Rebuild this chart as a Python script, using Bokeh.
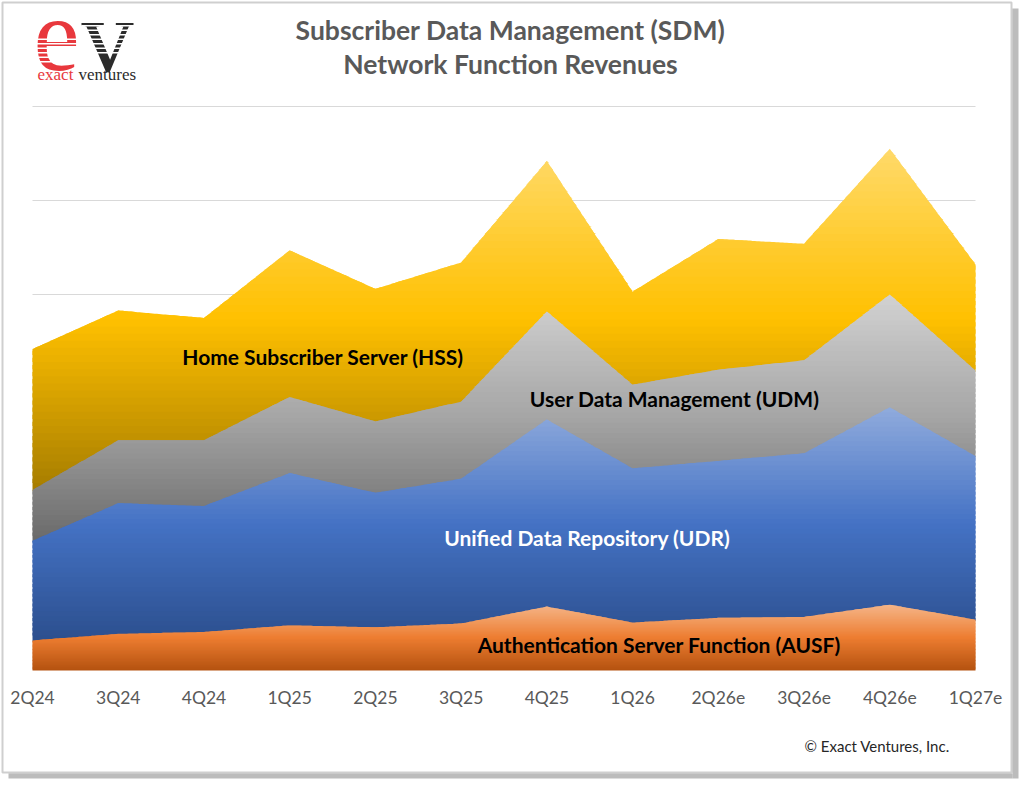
import numpy as np
from bokeh.plotting import figure
from bokeh.models import Range1d, Label, BoxAnnotation
from bokeh.core.properties import value
from bokeh.embed import file_html
from bokeh.resources import INLINE

# Quarterly revenue by SDM network function (stacked, bottom to top)
quarters = ["2Q24", "3Q24", "4Q24", "1Q25", "2Q25", "3Q25",
            "4Q25", "1Q26", "2Q26e", "3Q26e", "4Q26e", "1Q27e"]
ausf = [32, 39, 41, 48, 46, 50, 68, 51, 56, 57, 70, 54]
udr = [106, 139, 134, 162, 143, 154, 199, 164, 167, 174, 210, 174]
udm = [54, 67, 70, 81, 76, 82, 115, 89, 97, 99, 120, 91]
hss = [150, 138, 130, 156, 141, 148, 160, 99, 139, 124, 155, 113]
grid_values = [100, 200, 300, 400, 500, 600]

series_names = ["Authentication Server Function (AUSF)", "Unified Data Repository (UDR)",
                "User Data Management (UDM)", "Home Subscriber Server (HSS)"]
# light / base / dark stops of each vertical gradient
gradients = [
    ["#F5B588", "#ED7D31", "#B4520F"],
    ["#90ABDD", "#4472C4", "#2C4F8E"],
    ["#D2D2D2", "#A5A5A5", "#6A6A6A"],
    ["#FFDA6A", "#FFC000", "#A67D00"],
]

W, H = 1024, 786
# plot area in page pixels: x 32..975, y 106..670
LEFT, RIGHT, TOP, BOTTOM = 32, 975, 106, 670
n = len(quarters)
PX = (RIGHT - LEFT) / (n - 1)          # pixels per quarter
PY = (BOTTOM - TOP) / max(grid_values)  # pixels per value unit


def dx(px):
    return (px - LEFT) / PX


def dy(py):
    return (BOTTOM - py) / PY


p = figure(width=W, height=H, output_backend="svg", toolbar_location=None,
           x_range=Range1d(dx(0), dx(W)), y_range=Range1d(dy(H), dy(0)),
           x_axis_type=None, y_axis_type=None, min_border=0)
p.outline_line_color = None
p.background_fill_color = "white"
p.border_fill_color = "white"
p.grid.visible = False

x = np.arange(n, dtype=float)

# horizontal gridlines across the plot area
p.segment(x0=[0] * len(grid_values), x1=[n - 1] * len(grid_values),
          y0=grid_values, y1=grid_values, line_color="#D9D9D9", line_width=1)


def mix(a, b, t):
    ca = np.array([int(a[i:i + 2], 16) for i in (1, 3, 5)], float)
    cb = np.array([int(b[i:i + 2], 16) for i in (1, 3, 5)], float)
    c = ca + (cb - ca) * t
    return "#%02x%02x%02x" % tuple(int(round(v)) for v in c)


def grad(stops, t):
    # t = 0 at the top of the series, 1 at its bottom
    if t < 0.5:
        return mix(stops[0], stops[1], t / 0.5)
    return mix(stops[1], stops[2], (t - 0.5) / 0.5)


vals = [np.array(v, float) for v in (ausf, udr, udm, hss)]
tops = np.cumsum(vals, axis=0)
bottoms = np.vstack([np.zeros(n), tops[:-1]])

xs = np.linspace(0, n - 1, (n - 1) * 40 + 1)
N = 48
# top series first, each lower one drawn over the seam of the one above
for k in range(3, -1, -1):
    L = np.interp(xs, x, bottoms[k])
    U = np.interp(xs, x, tops[k])
    ymax, ymin = U.max(), L.min()
    Lx = L - (1.5 if k > 0 else 0.0)
    step = (ymax - ymin) / N
    for i in range(N):
        y0 = ymin + step * i
        y1 = ymin + step * (i + 1)
        lo = np.maximum(Lx, y0) if i > 0 else Lx
        hi = np.minimum(U, y1 + step * 0.6)
        hi = np.maximum(hi, lo)
        t = 1 - (i + 0.5) / N
        p.varea(x=xs, y1=lo, y2=hi, fill_color=grad(gradients[k], t))

# category labels under the plot area
p.text(x=x, y=[dy(697)] * n, text=quarters, text_align="center", text_baseline="middle",
       text_font=value("Lato"), text_font_size="17.5px", text_color="#595959")

# series labels
label_pos = [(7.31, 27.7, "black"), (6.47, 141.5, "white"), (7.49, 289, "black"), (3.39, 334, "black")]
for (lx, ly, col), name in zip(label_pos, series_names):
    p.add_layout(Label(x=lx, y=ly, text=name, text_align="center", text_baseline="middle",
                       text_font="Lato", text_font_style="bold", text_font_size="21px",
                       text_color=col))


def page_label(px, py, text, **kw):
    p.add_layout(Label(x=dx(px), y=dy(py), text=text, text_baseline="middle", **kw))


def page_box(l, r, t, b, **kw):
    p.add_layout(BoxAnnotation(left=dx(l), right=dx(r), top=dy(t), bottom=dy(b), **kw))


# title
page_label(510, 29, "Subscriber Data Management (SDM)", text_align="center",
           text_font="Lato", text_font_style="bold",
           text_font_size="26.5px", text_color="#595959")
page_label(510, 63, "Network Function Revenues", text_align="center",
           text_font="Lato", text_font_style="bold",
           text_font_size="26.5px", text_color="#595959")

# copyright
page_label(804, 745, "\u00a9 Exact Ventures, Inc.", text_align="left",
           text_font="Lato", text_font_size="15px", text_color="#262626")

# logo
page_label(33, 35, "e", text_align="left",
           text_font="Liberation Serif", text_font_size="104px", text_color="#E8383D")
page_label(81, 35, "v", text_align="left",
           text_font="Liberation Serif", text_font_size="104px", text_color="#2B2B2B")
for sy in np.arange(38, 62, 4.5):
    page_box(34, 81, sy, sy + 1.4, fill_color="white", fill_alpha=1, line_color=None)
for sy in np.arange(20, 52, 4.5):
    page_box(81, 138, sy, sy + 1.4, fill_color="white", fill_alpha=1, line_color=None)
page_label(37, 74, "exact", text_align="left",
           text_font="Liberation Serif", text_font_size="17px", text_color="#E8383D")
page_label(78, 74, "ventures", text_align="left",
           text_font="Liberation Serif", text_font_size="17px", text_color="#2B2B2B")

# frame with a drop shadow
page_box(1012, 1018, 8, 778, fill_color="#A0A0A0", fill_alpha=0.7, line_color=None)
page_box(8, 1012, 773, 778, fill_color="#A0A0A0", fill_alpha=0.7, line_color=None)
page_box(2, 1011, 2, 772, fill_alpha=0, line_color="#5F5F5F", line_width=2)

open("out.html", "w").write(file_html(p, INLINE))
